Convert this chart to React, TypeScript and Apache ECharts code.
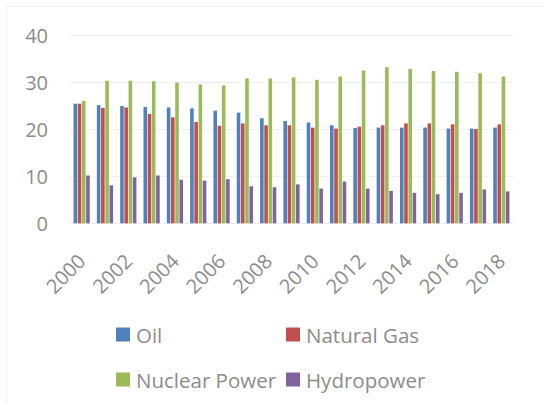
import React, { useEffect, useRef } from "react";
import * as echarts from "echarts";

const years = ["2000","2001","2002","2003","2004","2005","2006","2007","2008","2009","2010","2011","2012","2013","2014","2015","2016","2017","2018"];
const oil = [25.5,25.2,25.0,24.8,24.7,24.5,24.0,23.6,22.4,21.8,21.5,20.9,20.3,20.4,20.4,20.4,20.2,20.2,20.4];
const naturalGas = [25.5,24.6,24.7,23.3,22.6,21.6,20.8,21.3,20.9,20.9,20.4,20.2,20.6,20.9,21.3,21.3,21.1,20.1,21.1];
const nuclearPower = [26.1,30.4,30.4,30.3,30.0,29.6,29.4,30.9,30.9,31.1,30.6,31.3,32.6,33.3,32.9,32.5,32.3,32.0,31.3];
const hydropower = [10.2,8.1,9.8,10.2,9.3,9.1,9.4,7.9,7.7,8.3,7.4,8.9,7.4,6.9,6.5,6.2,6.5,7.2,6.8];
const yTicks = [0, 10, 20, 30, 40];

const seriesNames = ["Oil", "Natural Gas", "Nuclear Power", "Hydropower"];
const seriesData = [oil, naturalGas, nuclearPower, hydropower];
const colors = ["#4F81BD", "#C0504D", "#9BBB59", "#8064A2"];

const FONT = "Open Sans";
const FS = 20;
const TEXT_COLOR = "#8c8c8c";

export default function App() {
  const ref = useRef<HTMLDivElement>(null);
  useEffect(() => {
    if (!ref.current) return;
    const chart = echarts.init(ref.current, null, { renderer: "svg" });
    const legendPos = [
      { left: 116, top: 324 },
      { left: 286, top: 324 },
      { left: 116, top: 369 },
      { left: 286, top: 369 },
    ];
    chart.setOption({
      animation: false,
      backgroundColor: "#ffffff",
      graphic: [
        {
          type: "rect",
          shape: { x: 6.5, y: 6.5, width: 560, height: 420 },
          style: { fill: "none", stroke: "#efefef", lineWidth: 1 },
          silent: true,
        },
      ],
      legend: seriesNames.map((n, i) => ({
        data: [n],
        left: legendPos[i].left,
        top: legendPos[i].top,
        padding: 0,
        itemWidth: 14,
        itemHeight: 14,
        itemGap: 0,
        icon: "rect",
        textStyle: { fontFamily: FONT, fontSize: 20.5, color: TEXT_COLOR, padding: [0, 0, 0, 1] },
      })),
      grid: { left: 70, right: 31, top: 35.7, bottom: 179.7, containLabel: false },
      xAxis: {
        type: "category",
        data: years,
        axisLine: { show: true, lineStyle: { color: "#eaeaea", width: 1 } },
        axisTick: { show: false },
        axisLabel: {
          interval: 1,
          rotate: 45,
          margin: 34,
          fontFamily: FONT,
          fontSize: FS,
          color: TEXT_COLOR,
        },
      },
      yAxis: {
        type: "value",
        min: yTicks[0],
        max: yTicks[yTicks.length - 1],
        interval: 10,
        axisLine: { show: false },
        axisTick: { show: false },
        splitLine: { lineStyle: { color: "#efefef", width: 1 } },
        axisLabel: { margin: 22, fontFamily: FONT, fontSize: FS, color: TEXT_COLOR },
      },
      series: seriesNames.map((n, i) => ({
        name: n,
        type: "bar",
        data: seriesData[i],
        barWidth: 3.6,
        barGap: "17%",
        itemStyle: { color: colors[i] },
      })),
    });
    return () => chart.dispose();
  }, []);
  return <div ref={ref} style={{ width: 544, height: 403, position: "absolute", left: 0, top: 0 }} />;
}
